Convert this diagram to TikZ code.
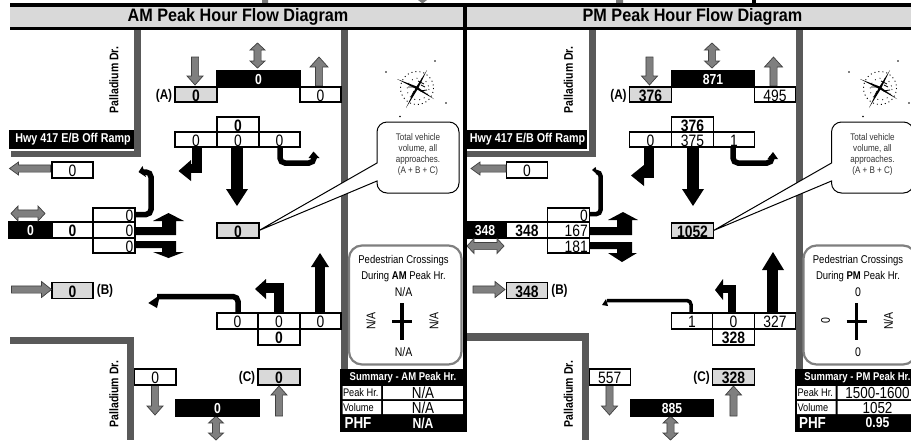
\documentclass[tikz,border=0pt]{standalone}
\usepackage{fontspec}
\setmainfont{Liberation Sans}
\newfontfamily\nar[FakeStretch=0.84]{Liberation Sans}
\newfontfamily\nah[FakeStretch=0.9]{Liberation Sans}
\definecolor{road}{HTML}{595959}
\definecolor{hdr}{HTML}{D9D9D9}
\definecolor{garr}{HTML}{7F7F7F}
\definecolor{pedg}{HTML}{7F7F7F}
\newcommand\fs[1]{\fontsize{#1}{#1}\selectfont\nar}
\newcommand\nv[1]{\smash{\raisebox{-6.5pt}{\fs{16.5}#1}}}
\newcommand\nb[1]{\smash{\raisebox{-6.5pt}{\fs{16.5}\bfseries #1}}}
\newcommand\nw[1]{\smash{\raisebox{-5pt}{\fs{14.5}\bfseries\color{white}#1}}}
\newcommand\rt[1]{\makebox[38.5pt][r]{#1}}
\tikzset{
  cell/.style={draw=black,line width=1.7pt,fill=white,inner sep=0pt,outer sep=0pt,rectangle},
  gcell/.style={cell,fill=hdr},
  kcell/.style={cell,fill=black},
  roadl/.style={fill=road},
  garrow/.style={draw=black!75,line width=0.7pt,fill=garr},
  blk/.style={draw=black,line cap=butt},
  hd/.style={fill=black},
  lab/.style={inner sep=0pt,outer sep=0pt,text=black},
}
% [style]{name}{x1}{y1}{x2}{y2}{text}
\newcommand\cellbox[7][cell]{%
  \node[#1,minimum width={(#5-#3)*1pt},minimum height={(#6-#4)*1pt}] (\pfx-#2) at ({(#3+#5)/2},{(#4+#6)/2}) {#7};}
% single grey arrow: tip x,y, rotation, length, half head width, head length
\newcommand\gar[6]{\draw[garrow,shift={(#1,#2)},rotate=#3] (0,0) -- (-#6,#5) -- (-#6,3.6) -- (-#4,3.6) -- (-#4,-3.6) -- (-#6,-3.6) -- (-#6,-#5) -- cycle;}
% double grey arrow: tip x,y, rotation, length
\newcommand\gdar[4]{\draw[garrow,shift={(#1,#2)},rotate=#3] (0,0) -- (-7,7.5) -- (-7,3.6) -- (-#4+7,3.6) -- (-#4+7,7.5) -- (-#4,0) -- (-#4+7,-7.5) -- (-#4+7,-3.6) -- (-7,-3.6) -- (-7,-7.5) -- cycle;}
\newcommand\compass[2]{\begin{scope}[shift={(#1,#2)}]
  \fill (10,-18) -- (1.4,0) -- (-11,20) -- (-1.4,0) -- cycle;
  \fill (-20,-9) -- (0,-1.4) -- (17,11) -- (0,1.4) -- cycle;
  \draw[line width=0.8pt] (-9,-1) -- (-2,-1) (1,-7) -- (7,-4) (-3,3) -- (-6,9) (3,3) -- (10,2) (4,-3) -- (8,-1);
  \draw[line width=0.9pt,dash pattern=on 1pt off 3pt] (0,0) circle (16.5);
  \draw[line width=0.7pt,dash pattern=on 1pt off 4pt] (1,1) circle (11);
  \fill (-31,-16) circle (0.9) (18,-27) circle (0.9) (29,15) circle (0.9) (-17,28.5) circle (0.9);
\end{scope}}
\newcommand\sharedpanel{%
  % Road upper-left
  \fill[roadl] (134,30) rectangle (141,157);
  \fill[roadl] (341,30) rectangle (348,370);
  % header
  \fill[hdr] (\hdrL,7) rectangle (\hdrR,27);
  \node[lab] (\pfx-title) at (238,16.8) {\fontsize{18}{18}\selectfont\nah\bfseries\vTitle};
  % gray approach arrows
  \gar{195}{85}{-90}{28}{8}{9}
  \gdar{257.5}{68}{-90}{25}
  \gar{319}{57}{90}{29}{9}{10}
  \gar{155}{415}{-90}{30}{8}{9}
  \gdar{216}{440}{-90}{24}
  \gar{279}{386}{90}{30}{8}{9}
  % north
  \cellbox[gcell]{a}{175}{87}{217}{102}{\nb{\vA}}
  \cellbox[kcell]{nb}{217}{71}{300}{87}{\nw{\vNb}}
  \cellbox{nx}{300}{87}{341}{102}{\nv{\vNx}}
  \node[lab] (\pfx-al) at (164,96) {\fs{14}\bfseries (A)};
  % top cells
  \cellbox{tt}{217}{117}{259}{132}{\nb{\vA}}
  \cellbox{tl}{175}{132}{217}{147}{\nv{\vTl}}
  \cellbox{tm}{217}{132}{259}{147}{\nv{\vTm}}
  \cellbox{tr}{259}{132}{300}{147}{\nv{\vTr}}
  % west
  \cellbox{wx}{52}{162}{93}{178}{\nv{\vWx}}
  \cellbox{wt}{93}{208}{135}{222}{\nv{\rt{\vWt}}}
  \cellbox[kcell]{wb}{9}{222}{52}{238}{\nw{\vB}}
  \cellbox{ww}{52}{222}{93}{238}{\nb{\vB}}
  \cellbox{wm}{93}{222}{135}{238}{\nv{\rt{\vWm}}}
  \cellbox{wl}{93}{238}{135}{253}{\nv{\rt{\vWl}}}
  \cellbox[gcell]{b}{52}{282.5}{93}{298.5}{\nb{\vB}}
  \node[lab] (\pfx-bl) at (105,291) {\fs{14}\bfseries (B)};
  % total
  \cellbox[gcell]{tot}{217}{223}{259}{238}{\nb{\vTot}}
  % south
  \cellbox{sl}{217}{313}{258}{329}{\nv{\vSl}}
  \cellbox{sm}{258}{313}{300}{329}{\nv{\vSm}}
  \cellbox{sr}{300}{313}{341}{329}{\nv{\vSr}}
  \cellbox{sb}{258}{329}{300}{345}{\nb{\vC}}
  \cellbox{sx}{134.5}{369}{176}{385}{\nv{\vSx}}
  \cellbox[kcell]{sk}{176}{400}{259}{416}{\nw{\vSk}}
  \cellbox[gcell]{c}{258}{369}{300}{385}{\nb{\vC}}
  \node[lab] (\pfx-cl) at (247,378) {\fs{14}\bfseries (C)};
  % callout
  \draw[fill=white,line width=1pt] (\pfx-tot.east) -- (377,163) [rounded corners=10pt] -- (377,122) -- (459,122) -- (459,193) -- (377,193) [sharp corners] -- (377,181) -- cycle;
  \node[lab,align=center,text=black!80,font={\fontsize{9.6}{11}\selectfont\nar}] (\pfx-call) at (418,154.5) {Total vehicle\\volume, all\\approaches.\\(A + B + C)};
  % pedestrian box
  \draw[pedg,fill=white,line width=2.2pt,rounded corners=13pt] (349,245.5) rectangle (461.5,364.5);
  \node[lab] (\pfx-p1) at (403.5,261) {\fs{11.3}Pedestrian Crossings};
  \node[lab] (\pfx-p2) at (403.5,277) {\fs{11.3}During \textbf{\vPk} Peak Hr.};
  \node[lab] (\pfx-pn) at (403.5,292) {\fs{12.5}\vPn};
  \node[lab] (\pfx-ps) at (403.5,352.5) {\fs{12.5}\vPs};
  \node[lab,rotate=90] (\pfx-pw) at (371,321) {\fs{12.5}\vPw};
  \node[lab,rotate=90] (\pfx-pe) at (434,321) {\fs{12.5}\vPe};
  \draw[line width=3.2pt] (402,303) -- (402,340);
  \draw[line width=3.2pt] (392,321.5) -- (412,321.5);
  % summary
  \fill[black] (340,369) rectangle (466,432);
  \node[lab,text=white] (\pfx-st) at (403,377.5) {\fs{11.3}\bfseries Summary - \vPk{} Peak Hr.};
  \fill[white] (342.5,386) rectangle (381,399) (342.5,401) rectangle (381,414);
  \fill[white] (383,386) rectangle (463.5,399) (383,401) rectangle (463.5,414);
  \node[lab,anchor=west] (\pfx-s1) at (343,393) {\fs{11}Peak Hr.};
  \node[lab,anchor=west] (\pfx-s2) at (343,408) {\fs{11}Volume};
  \node[lab] (\pfx-s3) at (423,392.5) {\fs{16}\vHr};
  \node[lab] (\pfx-s4) at (423,407.5) {\fs{16}\vVol};
  \node[lab,text=white] (\pfx-s5) at (358,423) {\fs{16}\bfseries PHF};
  \node[lab,text=white] (\pfx-s6) at (423,423) {\fs{14.5}\bfseries\vPhf};
  % Street labels
  \node[lab,rotate=90] (\pfx-st1) at (114,80) {\fs{12.5}\bfseries Palladium Dr.};
  \node[lab,rotate=90] (\pfx-st2) at (114,394) {\fs{12.5}\bfseries Palladium Dr.};
}
\begin{document}
\begin{tikzpicture}[x=1pt,y=-1pt]
\clip (0,0) rectangle (911,440);
\fill[white] (0,0) rectangle (911,440);
% clipped fragments at the top edge
\fill[road!80] (262,0) rectangle (268,3) (616,0) rectangle (623,3);
\fill[garr] (418,0) -- (427,0) -- (422.5,3.5) -- cycle;
\fill (752,0) rectangle (756,3);
% ============ AM ============
\def\pfx{am}\def\hdrL{10}\def\hdrR{463}\def\vTitle{AM Peak Hour Flow Diagram}
\def\vA{0}\def\vNb{0}\def\vNx{0}\def\vTl{0}\def\vTm{0}\def\vTr{0}\def\vWx{0}\def\vWt{0}\def\vWm{0}\def\vWl{0}\def\vB{0}\def\vTot{0}
\def\vSl{0}\def\vSm{0}\def\vSr{0}\def\vC{0}\def\vSx{0}\def\vSk{0}\def\vPk{AM}\def\vPn{N/A}\def\vPs{N/A}\def\vPw{N/A}\def\vPe{N/A}\def\vHr{N/A}\def\vVol{N/A}\def\vPhf{N/A}
\sharedpanel
\fill[roadl] (11,151) rectangle (141,157);
\fill[roadl] (10,337) rectangle (134,344);
\fill[roadl] (127,337) rectangle (134,440);
\node[fill=black,inner sep=0pt,minimum width=125pt,minimum height=19pt,text=white] (amhwy) at (71.5,139.5) {\hspace*{3pt}\fs{12.8}\bfseries Hwy 417 E/B Off Ramp};
\gar{9.5}{168.5}{180}{41}{6.5}{9}
\gdar{45}{213.5}{0}{34}
\gar{51.5}{289.5}{0}{40}{8}{10}
% AM movement arrows
\draw[blk,line width=9.5pt] (197,147) -- (197,168.5) -- (190,168.5);
\fill[hd] (178.5,171) -- (191,160) -- (191,181) -- cycle;
\draw[blk,line width=11.5pt] (237,147) -- (237,190);
\fill[hd] (226,189) -- (248,189) -- (237,206) -- cycle;
\draw[blk,line width=5.5pt,rounded corners=5pt] (280,147) -- (280,163) -- (314,163) -- (314,156);
\fill[hd] (313.5,151.5) -- (308.5,158) -- (319.5,158) -- cycle;
\draw[blk,line width=5.5pt,rounded corners=5pt] (135,214.5) -- (151,214.5) -- (151,172) -- (143,172);
\fill[hd] (138.5,172) -- (142.5,166) -- (146,177) -- cycle;
\fill[hd] (135,227) -- (162,227) -- (162,221) -- (153,221) -- (168.5,213) -- (184,221) -- (176,221) -- (176,235) -- (135,235) -- cycle;
\fill[hd] (135,241) -- (176,241) -- (176,252) -- (184,252) -- (168.5,258) -- (153,252) -- (162,252) -- (162,248) -- (135,248) -- cycle;
\draw[blk,line width=10.5pt] (320,313) -- (320,266);
\fill[hd] (311,267) -- (329,267) -- (320,253) -- cycle;
\draw[blk,line width=10pt] (279,312) -- (279,288) -- (265,288);
\fill[hd] (255,289) -- (266,279) -- (266,299) -- cycle;
\draw[blk,line width=5.5pt,rounded corners=5pt] (238,313) -- (238,296.5) -- (157,296.5);
\fill[hd] (148.3,303) -- (160,295) -- (157,308) -- cycle;
% ============ PM ============
\begin{scope}[xshift=454.5pt]
\def\pfx{pm}\def\hdrL{12.5}\def\hdrR{460}\def\vTitle{PM Peak Hour Flow Diagram}
\def\vA{376}\def\vNb{871}\def\vNx{495}\def\vTl{0}\def\vTm{375}\def\vTr{1}\def\vWx{0}\def\vWt{0}\def\vWm{167}\def\vWl{181}\def\vB{348}\def\vTot{1052}
\def\vSl{1}\def\vSm{0}\def\vSr{327}\def\vC{328}\def\vSx{557}\def\vSk{885}\def\vPk{PM}\def\vPn{0}\def\vPs{0}\def\vPw{0}\def\vPe{N/A}\def\vHr{1500-1600}\def\vVol{1052}\def\vPhf{0.95}
\sharedpanel
\end{scope}
\fill[roadl] (467,151) rectangle (593,157);
\fill[roadl] (467,333) rectangle (589,341);
\fill[roadl] (582,333) rectangle (589,440);
\node[fill=black,inner sep=0pt,minimum width=120pt,minimum height=19pt,text=white] (pmhwy) at (527,139.5) {\hspace*{1pt}\fs{12.8}\bfseries Hwy 417 E/B Off Ramp};
\gar{471}{168.5}{180}{35}{6.5}{9}
\gdar{504}{246}{0}{37}
\gar{505}{289.5}{0}{32}{8}{10}
% PM movement arrows
\draw[blk,line width=9.5pt] (649,147) -- (649,173) -- (643,173);
\fill[hd] (631,175.5) -- (644,165) -- (644,186) -- cycle;
\draw[blk,line width=12pt] (693,147) -- (693,190);
\fill[hd] (682,189) -- (704,189) -- (693,206) -- cycle;
\draw[blk,line width=5.5pt,rounded corners=5pt] (733,147) -- (733,163) -- (772,163) -- (772,156);
\fill[hd] (773,152) -- (767.5,159) -- (778,159) -- cycle;
\draw[blk,line width=4.5pt,rounded corners=4pt] (589,214) -- (600.5,214) -- (600.5,172) -- (596,172);
\fill[hd] (592,170) -- (595.5,167) -- (598,175) -- cycle;
\fill[hd] (589,227) -- (617,227) -- (617,220) -- (608,220) -- (623,212) -- (638,220) -- (632,220) -- (632,235) -- (589,235) -- cycle;
\fill[hd] (589,242) -- (632,242) -- (632,253) -- (637,253) -- (622,262) -- (608,253) -- (617,253) -- (617,249) -- (589,249) -- cycle;
\draw[blk,line width=11pt] (772.5,313) -- (772.5,268);
\fill[hd] (762,270) -- (784,270) -- (773,252) -- cycle;
\draw[blk,line width=8pt] (732,312) -- (732,288.5) -- (722,288.5);
\fill[hd] (715,290) -- (723,279) -- (723,300) -- cycle;
\draw[blk,line width=3.5pt,rounded corners=4pt] (691,313) -- (691,300.5) -- (607,300.5);
\fill[hd] (602,305) -- (606,299) -- (608,306) -- cycle;
% compasses
\compass{417}{88}
\compass{880}{88}
% frame lines
\fill (10,3) rectangle (911,7);
\fill (10,26.5) rectangle (911,30);
\fill (463,3) rectangle (467,432);
\end{tikzpicture}
\end{document}
